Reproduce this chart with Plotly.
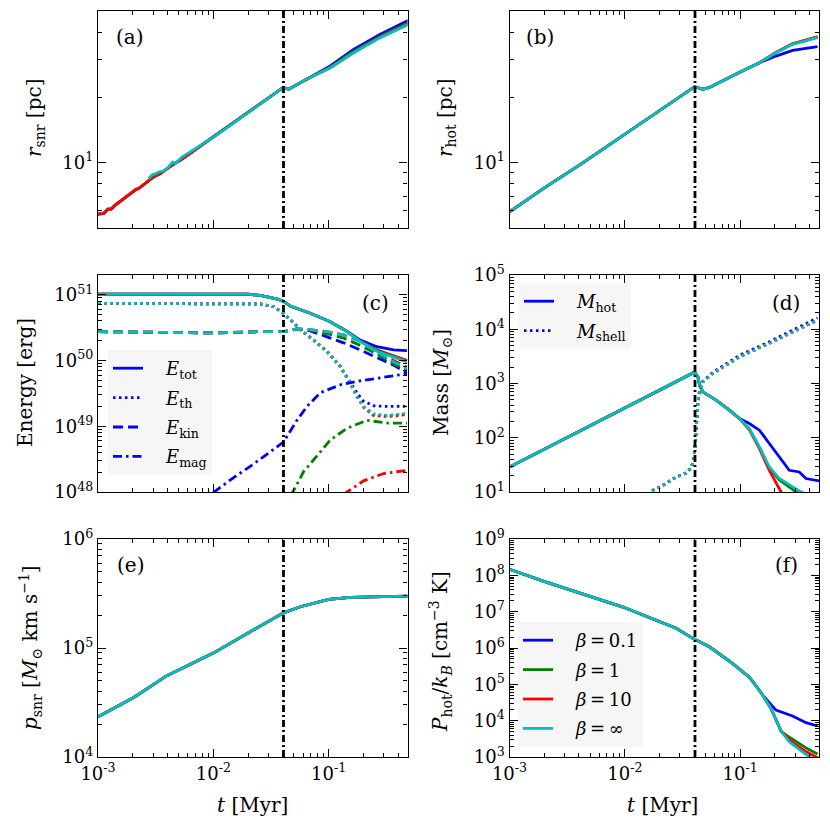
import numpy as np
import plotly.graph_objects as go

# ---------------- data ----------------
T_SF = 0.0406          # vertical dash-dot marker (Myr)
X_MIN, X_MAX = 1e-3, 0.483

COL = {"b": "#0000ff", "g": "#008000", "r": "#ff0000", "c": "#00bfbf"}

# (a) r_snr [pc]
A_T_RED_EARLY = [0.00100, 0.00112, 0.00122, 0.00130, 0.00141, 0.00161, 0.00178, 0.00191, 0.00204,
                 0.00214, 0.00225, 0.00248, 0.00275, 0.00303, 0.00347, 0.00384, 0.00424, 0.00535, 0.00698]
A_R_RED_EARLY = [5.79, 5.83, 6.11, 6.11, 6.37, 6.71, 6.95, 7.21, 7.33,
                 7.54, 7.60, 7.93, 8.24, 8.59, 8.90, 9.29, 9.61, 10.4, 11.5]
A_T_CYAN_EARLY = [0.00275, 0.00297, 0.00318, 0.00336, 0.00371, 0.00409, 0.00444, 0.00468, 0.00535, 0.00698, 0.00910]
A_R_CYAN_EARLY = [8.45, 8.81, 8.90, 9.06, 9.15, 9.55, 10.06, 9.90, 10.61, 11.59, 12.66]
A_T_MID = [0.0100, 0.0200, 0.0316, 0.0403, 0.0450, 0.0649]
A_R_MID = [13.1, 17.0, 20.2, 22.2, 21.8, 24.3]
A_T_LATE = [0.1033, 0.1644, 0.2805, 0.4932]
A_R_LATE = {"b": [27.9, 33.3, 39.1, 45.3],
            "g": [27.6, 32.6, 38.3, 44.2],
            "r": [27.4, 32.2, 37.9, 43.7],
            "c": [27.4, 32.1, 37.7, 43.4]}

# (b) r_hot [pc]
B_T_COMMON = [0.00100, 0.00196, 0.00435, 0.00964, 0.02004, 0.0403, 0.0475, 0.0542, 0.0973, 0.1469]
B_R_COMMON = [5.93, 7.60, 10.0, 13.3, 17.4, 22.4, 21.8, 22.2, 26.0, 28.9]
B_T_LATE = [0.2046, 0.2851, 0.4688]
B_R_LATE = {"b": [31.0, 32.9, 34.3],
            "g": [32.2, 35.3, 38.0],
            "r": [32.2, 35.3, 38.0],
            "c": [32.1, 35.1, 37.7]}

# (c) energies [erg]
C_T_TOT = [0.001, 0.0200, 0.0255, 0.0368, 0.0406, 0.0465, 0.0693, 0.1033, 0.1442, 0.1879, 0.2624, 0.3656, 0.4775]
C_E_TOT = {"c": [1.02e51, 1.02e51, 9.77e50, 8.51e50, 7.94e50, 6.76e50, 5.25e50, 3.89e50, 2.75e50, 1.95e50, 1.38e50, 1.12e50, 9.55e49],
           "r": [1.02e51, 1.02e51, 9.77e50, 8.51e50, 7.94e50, 6.76e50, 5.25e50, 3.89e50, 2.75e50, 1.97e50, 1.41e50, 1.15e50, 1.00e50],
           "g": [1.02e51, 1.02e51, 9.77e50, 8.51e50, 7.94e50, 6.76e50, 5.25e50, 3.89e50, 2.75e50, 1.97e50, 1.45e50, 1.17e50, 1.00e50],
           "b": [1.02e51, 1.02e51, 9.77e50, 8.51e50, 7.94e50, 6.76e50, 5.25e50, 3.89e50, 2.80e50, 2.04e50, 1.62e50, 1.45e50, 1.41e50]}
C_T_TH = [0.001, 0.0100, 0.0200, 0.0255, 0.0333, 0.0406, 0.0465, 0.0568, 0.0741, 0.0968, 0.1262, 0.1542, 0.1762, 0.2009, 0.2455, 0.3206, 0.4775]
C_E_TH = {"c": [7.41e50, 7.41e50, 7.33e50, 7.24e50, 6.61e50, 5.25e50, 4.17e50, 2.95e50, 2.04e50, 1.38e50, 8.13e49, 4.47e49, 2.82e49, 2.00e49, 1.55e49, 1.45e49, 1.58e49],
          "r": [7.41e50, 7.41e50, 7.33e50, 7.24e50, 6.61e50, 5.25e50, 4.17e50, 2.95e50, 2.04e50, 1.38e50, 8.13e49, 4.47e49, 2.82e49, 1.95e49, 1.45e49, 1.40e49, 1.50e49],
          "g": [7.41e50, 7.41e50, 7.33e50, 7.24e50, 6.61e50, 5.25e50, 4.17e50, 2.95e50, 2.04e50, 1.38e50, 8.13e49, 4.47e49, 2.82e49, 1.98e49, 1.50e49, 1.45e49, 1.52e49],
          "b": [7.41e50, 7.41e50, 7.33e50, 7.24e50, 6.61e50, 5.25e50, 4.17e50, 2.95e50, 2.04e50, 1.38e50, 8.13e49, 4.60e49, 3.20e49, 2.40e49, 2.05e49, 2.00e49, 2.00e49]}
C_T_KIN = [0.001, 0.00316, 0.0100, 0.0255, 0.0406, 0.0531, 0.0693, 0.0968, 0.1349, 0.1879, 0.2624, 0.3656, 0.4775]
C_E_KIN = {"c": [2.75e50, 2.69e50, 2.63e50, 2.75e50, 2.75e50, 3.02e50, 2.95e50, 2.75e50, 2.45e50, 1.95e50, 1.38e50, 9.55e49, 7.59e49],
           "r": [2.75e50, 2.69e50, 2.63e50, 2.75e50, 2.75e50, 3.02e50, 2.95e50, 2.75e50, 2.45e50, 1.97e50, 1.42e50, 1.00e50, 7.94e49],
           "g": [2.75e50, 2.69e50, 2.63e50, 2.75e50, 2.75e50, 3.02e50, 2.90e50, 2.57e50, 2.19e50, 1.70e50, 1.26e50, 8.91e49, 7.08e49],
           "b": [2.75e50, 2.69e50, 2.63e50, 2.75e50, 2.75e50, 3.02e50, 2.82e50, 2.29e50, 1.86e50, 1.45e50, 1.12e50, 8.51e49, 6.46e49]}
C_T_MAG_B = [0.0100, 0.0150, 0.0209, 0.0292, 0.0406, 0.0531, 0.0649, 0.0847, 0.1262, 0.1879, 0.3206, 0.4775]
C_E_MAG_B = [9.8e47, 1.66e48, 2.45e48, 3.80e48, 5.75e48, 1.23e49, 2.00e49, 3.24e49, 4.27e49, 4.90e49, 5.62e49, 6.31e49]
C_T_MAG_G = [0.0468, 0.0497, 0.0607, 0.0793, 0.1033, 0.1442, 0.2148, 0.3206, 0.4775]
C_E_MAG_G = [8.9e47, 1.05e48, 2.04e48, 3.63e48, 6.17e48, 9.33e48, 1.23e49, 1.12e49, 1.12e49]
C_T_MAG_R = [0.1349, 0.1442, 0.2009, 0.2992, 0.4775]
C_E_MAG_R = [9.1e47, 1.00e48, 1.48e48, 1.91e48, 2.14e48]

# (d) masses [Msun]
D_T_HOT_COMMON = [0.001, 0.00316, 0.0100, 0.0200, 0.0316, 0.0403, 0.0430, 0.0445, 0.0474, 0.0619, 0.0807, 0.0986]
D_M_HOT_COMMON = [28.9, 101, 352, 745, 1230, 1620, 1330, 931, 701, 493, 322, 226]
D_T_HOT_LATE = {"c": [0.1202, 0.1469, 0.1791, 0.2188, 0.2851, 0.3258, 0.3715],
                "g": [0.1202, 0.1469, 0.1791, 0.2188, 0.2851, 0.3162],
                "r": [0.1202, 0.1469, 0.1791, 0.2265, 0.2399],
                "b": [0.1202, 0.1469, 0.1791, 0.2188, 0.2667, 0.3258, 0.3724, 0.4853]}
D_M_HOT_LATE = {"c": [148, 67.6, 28.9, 17.7, 12.4, 10.7, 8.9],
                "g": [145, 66.1, 27.5, 16.6, 11.2, 9.5],
                "r": [141, 63.1, 25.1, 10.0, 8.9],
                "b": [183, 138, 78.2, 44.3, 25.1, 23.4, 17.7, 16.0]}
D_T_SHELL = [0.0158, 0.0175, 0.0214, 0.0279, 0.0341, 0.0377, 0.0389, 0.0403, 0.0416, 0.0430, 0.0445, 0.0474, 0.0579, 0.0986, 0.1791, 0.2851, 0.4688]
D_M_SHELL = {"c": [8.9, 10.7, 13.3, 18.9, 22.4, 28.2, 35.5, 56.2, 138, 427, 753, 1070, 1530, 3090, 5500, 9000, 14750],
             "b": [8.9, 10.7, 13.3, 18.9, 22.4, 28.2, 35.5, 56.2, 138, 427, 760, 1100, 1600, 3310, 5890, 9770, 16200]}

# (e) p_snr [Msun km/s]
E_T = [0.001, 0.00204, 0.00396, 0.0100, 0.0209, 0.0406, 0.0568, 0.1000, 0.1542, 0.4842]
E_P = [2.34e4, 3.52e4, 5.58e4, 8.98e4, 1.41e5, 2.10e5, 2.39e5, 2.79e5, 2.91e5, 2.99e5]

# (f) P_hot / k_B [cm^-3 K]
F_T_COMMON = [0.001, 0.00196, 0.00964, 0.0279, 0.0389, 0.0445, 0.0542, 0.0863, 0.1202, 0.1374, 0.1570]
F_P_COMMON = [1.47e8, 6.92e7, 1.34e7, 3.49e6, 1.84e6, 1.48e6, 1.08e6, 3.72e5, 1.58e5, 9.12e4, 5.01e4]
F_T_LATE = {"c": [0.1841, 0.2046, 0.2275, 0.2667, 0.3258, 0.3981, 0.4467],
            "r": [0.1841, 0.2046, 0.2275, 0.2667, 0.2851, 0.3724, 0.4688],
            "g": [0.1841, 0.2046, 0.2275, 0.2512, 0.2851, 0.3724, 0.4688],
            "b": [0.1905, 0.2046, 0.2512, 0.2851, 0.3724, 0.4688]}
F_P_LATE = {"c": [2.24e4, 1.00e4, 5.01e3, 2.63e3, 1.58e3, 1.00e3, 7.9e2],
            "r": [2.24e4, 1.00e4, 5.01e3, 3.16e3, 2.51e3, 1.41e3, 9.5e2],
            "g": [2.24e4, 1.00e4, 5.01e3, 3.98e3, 3.05e3, 1.78e3, 1.21e3],
            "b": [2.51e4, 1.95e4, 1.55e4, 1.35e4, 8.83e3, 7.14e3]}

SP = "\u2002\u2002"  # gap between legend sample and label
LEG_C = [("<i>E</i><sub>tot</sub>", "solid"), ("<i>E</i><sub>th</sub>", "dot"),
         ("<i>E</i><sub>kin</sub>", "dash"), ("<i>E</i><sub>mag</sub>", "dashdot")]
LEG_D = [("<i>M</i><sub>hot</sub>", "solid"), ("<i>M</i><sub>shell</sub>", "dot")]
LEG_F = [("<i>β</i>\u2009=\u20090.1", "b"), ("<i>β</i>\u2009=\u20091", "g"),
         ("<i>β</i>\u2009=\u200910", "r"), ("<i>β</i>\u2009=\u2009∞", "c")]

# ---------------- styling ----------------
FONT = "DejaVu Serif"
OFF = 8                     # page body margin of the browser
W, H = 830 - OFF, 828 - OFF  # figure size
LW = 2.8
DASH = {"solid": "solid", "dot": "2.5px,3.5px", "dash": "10px,5px", "dashdot": "9px,4px,2.5px,4px"}
ORDER = ["b", "g", "r", "c"]
XREF = {p: ("x" if p == "1" else "x" + p) for p in "123456"}
YREF = {p: ("y" if p == "1" else "y" + p) for p in "123456"}


def px(x):
    return (x - OFF) / W


def py(y):
    return 1 - (y - OFF) / H


fig = go.Figure()


def add(p, t, y, color, dash="solid"):
    fig.add_trace(go.Scatter(x=t, y=y, mode="lines", xaxis=XREF[p], yaxis=YREF[p],
                             line=dict(color=COL[color], width=LW, dash=DASH[dash]),
                             showlegend=False, hoverinfo="skip"))


# (a)
for k in ORDER:
    if k == "c":
        t = A_T_CYAN_EARLY + A_T_MID + A_T_LATE
        r = A_R_CYAN_EARLY + A_R_MID + A_R_LATE[k]
    else:
        t = A_T_RED_EARLY + A_T_MID + A_T_LATE
        r = A_R_RED_EARLY + A_R_MID + A_R_LATE[k]
    add("1", t, r, k)
# (b)
for k in ORDER:
    add("2", B_T_COMMON + B_T_LATE, B_R_COMMON + B_R_LATE[k], k)
# (c)
for k in ORDER:
    add("3", C_T_TOT, C_E_TOT[k], k, "solid")
    add("3", C_T_TH, C_E_TH[k], k, "dot")
    add("3", C_T_KIN, C_E_KIN[k], k, "dash")
add("3", C_T_MAG_B, C_E_MAG_B, "b", "dashdot")
add("3", C_T_MAG_G, C_E_MAG_G, "g", "dashdot")
add("3", C_T_MAG_R, C_E_MAG_R, "r", "dashdot")
# (d)
for k in ORDER:
    add("4", D_T_HOT_COMMON + D_T_HOT_LATE[k], D_M_HOT_COMMON + D_M_HOT_LATE[k], k, "solid")
for k in ORDER:
    add("4", D_T_SHELL, D_M_SHELL["b" if k == "b" else "c"], k, "dot")
# (e)
for k in ORDER:
    add("5", E_T, E_P, k)
# (f)
for k in ORDER:
    add("6", F_T_COMMON + F_T_LATE[k], F_P_COMMON + F_P_LATE[k], k)

# legends (dummy entries)
for i, (name, d) in enumerate(LEG_C):
    fig.add_trace(go.Scatter(x=[None], y=[None], xaxis="x3", yaxis="y3", mode="lines", name=SP + name,
                             line=dict(color=COL["b"], width=LW, dash=DASH[d]), legend="legend",
                             legendgroup="c%d" % i, showlegend=True))
for i, (name, d) in enumerate(LEG_D):
    fig.add_trace(go.Scatter(x=[None], y=[None], xaxis="x4", yaxis="y4", mode="lines", name=SP + name,
                             line=dict(color=COL["b"], width=LW, dash=DASH[d]), legend="legend2",
                             legendgroup="d%d" % i, showlegend=True))
for i, (name, k) in enumerate(LEG_F):
    fig.add_trace(go.Scatter(x=[None], y=[None], xaxis="x6", yaxis="y6", mode="lines", name=SP + name,
                             line=dict(color=COL[k], width=LW), legend="legend3",
                             legendgroup="f%d" % i, showlegend=True))


# ---------------- axes ----------------
def minor_vals(lo_exp, hi_exp):
    return [m * 10.0 ** e for e in range(lo_exp, hi_exp + 1) for m in range(2, 10)]


def pow_label(e):
    return "10<sup>%s</sup>" % (str(e) if e >= 0 else "-%d" % (-e))


COLS = {"L": (px(98), px(407.5)), "R": (px(509.5), px(819))}
ROWS = {1: (py(228), py(11)), 2: (py(492), py(275)), 3: (py(757), py(539))}
PANELS = {"1": ("L", 1), "2": ("R", 1), "3": ("L", 2), "4": ("R", 2), "5": ("L", 3), "6": ("R", 3)}
Y_RANGE = {"1": (5, 50), "2": (5, 50), "3": (1e48, 2e51), "4": (10, 1e5), "5": (1e4, 1e6), "6": (1e3, 1e9)}
Y_MAJOR = {"1": [1], "2": [1], "3": [48, 49, 50, 51], "4": [1, 2, 3, 4, 5], "5": [4, 5, 6], "6": [3, 4, 5, 6, 7, 8, 9]}
Y_MINOR = {"1": [5, 6, 7, 8, 9, 20, 30, 40], "2": [5, 6, 7, 8, 9, 20, 30, 40], "3": minor_vals(48, 50) + [2e51],
           "4": minor_vals(1, 4), "5": minor_vals(4, 5), "6": minor_vals(3, 8)}

common_ax = dict(type="log", showline=True, linecolor="black", linewidth=1.4, mirror="allticks",
                 ticks="inside", ticklen=8, tickwidth=1.2, tickcolor="black", showgrid=False,
                 zeroline=False, automargin=False, tickfont=dict(family=FONT, size=18, color="black"))

layout_axes = {}
for p, (c, r) in PANELS.items():
    xname = "xaxis" if p == "1" else "xaxis" + p
    yname = "yaxis" if p == "1" else "yaxis" + p
    bottom = r == 3
    layout_axes[xname] = dict(common_ax, domain=COLS[c], anchor=YREF[p],
                              range=[np.log10(X_MIN), np.log10(X_MAX)],
                              tickvals=[1e-3, 1e-2, 1e-1],
                              ticktext=[pow_label(e) for e in (-3, -2, -1)],
                              showticklabels=bottom,
                              minor=dict(tickvals=minor_vals(-3, -1), ticks="inside", ticklen=4,
                                         tickwidth=1, tickcolor="black"))
    lo, hi = Y_RANGE[p]
    layout_axes[yname] = dict(common_ax, domain=ROWS[r], anchor=XREF[p],
                              range=[np.log10(lo), np.log10(hi)],
                              tickvals=[10.0 ** e for e in Y_MAJOR[p]],
                              ticktext=[pow_label(e) for e in Y_MAJOR[p]],
                              minor=dict(tickvals=Y_MINOR[p], ticks="inside", ticklen=4,
                                         tickwidth=1, tickcolor="black"))

# vertical dash-dot line at T_SF
shapes = []
for p in PANELS:
    shapes.append(dict(type="line", xref=XREF[p], yref=YREF[p] + " domain", x0=T_SF, x1=T_SF, y0=0, y1=1,
                       line=dict(color="black", width=2.8, dash="7px,3px,2px,3px")))

# annotations: axis titles and panel letters
ann = []


def txt(x, y, s, size=20, angle=0):
    ann.append(dict(xref="paper", yref="paper", x=px(x), y=py(y), text=s, showarrow=False,
                    textangle=angle, xanchor="center", yanchor="middle",
                    font=dict(family=FONT, size=size, color="black")))


txt(35, 118, "<i>r</i><sub>snr</sub> [pc]", angle=-90)
txt(446, 118, "<i>r</i><sub>hot</sub> [pc]", angle=-90)
txt(25, 383, "Energy [erg]", angle=-90)
txt(442, 383, "Mass [<i>M</i><sub>⊙</sub>]", angle=-90)
txt(30, 648, "<i>p</i><sub>snr</sub> [<i>M</i><sub>⊙</sub> km s<sup>−1</sup>]", angle=-90)
txt(440, 652, "<i>P</i><sub>hot</sub>/<i>k</i><sub><i>B</i></sub> [cm<sup>−3</sup> K]", angle=-90)
txt(252, 805, "<i>t</i> [Myr]")
txt(662, 805, "<i>t</i> [Myr]")
for lab, x, y in [("(a)", 130, 37), ("(b)", 540, 37), ("(c)", 375, 303), ("(d)", 786, 303),
                  ("(e)", 130, 565), ("(f)", 786, 565)]:
    txt(x, y, lab, size=20)

leg_common = dict(bgcolor="#f6f6f6", borderwidth=0, font=dict(family=FONT, size=18, color="black"),
                  xanchor="left", yanchor="top", tracegroupgap=3, itemwidth=30)

fig.update_layout(
    width=W, height=H, margin=dict(l=0, r=0, t=0, b=0, pad=0, autoexpand=False),
    paper_bgcolor="white", plot_bgcolor="white",
    showlegend=True,
    shapes=shapes, annotations=ann,
    legend=dict(leg_common, x=px(108), y=py(350)),
    legend2=dict(leg_common, x=px(519), y=py(283)),
    legend3=dict(leg_common, x=px(518), y=py(622)),
    **layout_axes,
)

fig.write_html("out.html")
